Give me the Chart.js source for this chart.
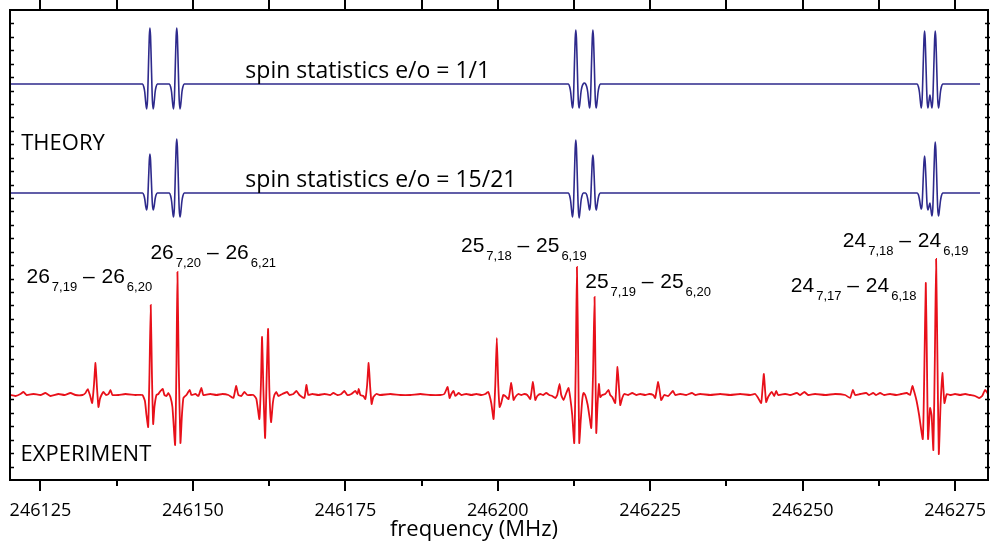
<!DOCTYPE html>
<html>
<head>
<meta charset="utf-8">
<script src="https://cdn.jsdelivr.net/npm/chart.js@4.4.1/dist/chart.umd.min.js"></script>
<style>
  html, body { margin: 0; padding: 0; background: #fff; }
  #wrap { width: 990px; height: 554px; }
</style>
</head>
<body>
<div id="wrap"><canvas id="spec" width="990" height="554"></canvas></div>
<script>
// frequency axis (MHz)
const xTicks = [246125, 246150, 246175, 246200, 246225, 246250, 246275];
const xMin = 246120, xMax = 246280.4;
const xTitle = 'frequency (MHz)';

// intensity (arbitrary units), each trace is drawn around its own baseline
const yMax = 470;
const baseTheory11 = 396, baseTheory1521 = 287, baseExp = 85;

// simulated spectrum, spin statistics e/o = 1/1   [MHz, intensity]
const theory11 = [
  [246120.0, 0],
  [246141.75, 0], [246141.95, -3], [246142.10, -8], [246142.25, -18], [246142.41, -25], [246142.55, -16],
  [246142.75, 27], [246142.85, 48], [246142.95, 56], [246143.05, 48], [246143.15, 27],
  [246143.35, -16], [246143.49, -25], [246143.65, -18], [246143.80, -8], [246143.95, -3], [246144.15, 0],
  [246146.15, 0], [246146.35, -3], [246146.50, -8], [246146.65, -18], [246146.81, -25], [246146.95, -16],
  [246147.15, 27], [246147.25, 48], [246147.35, 56], [246147.45, 48], [246147.55, 27],
  [246147.75, -16], [246147.89, -25], [246148.05, -18], [246148.20, -8], [246148.35, -3], [246148.55, 0],
  [246211.60, 0], [246211.80, -3], [246211.95, -8], [246212.10, -17], [246212.26, -24], [246212.40, -16],
  [246212.60, 26], [246212.70, 46], [246212.80, 54], [246212.90, 46], [246213.00, 26],
  [246213.20, -16], [246213.34, -24], [246213.50, -17], [246213.65, -8], [246213.80, -3], [246214.00, 0],
  [246214.20, 1],
  [246214.40, 0], [246214.60, -3], [246214.75, -8], [246214.90, -17], [246215.06, -24], [246215.20, -16],
  [246215.40, 26], [246215.50, 46], [246215.60, 54], [246215.70, 46], [246215.80, 26],
  [246216.00, -16], [246216.14, -24], [246216.30, -17], [246216.45, -8], [246216.60, -3], [246216.80, 0],
  [246268.80, 0], [246269.00, -3], [246269.15, -8], [246269.30, -17], [246269.46, -24], [246269.60, -15],
  [246269.80, 25], [246269.90, 45], [246270.00, 53], [246270.10, 45], [246270.20, 25],
  [246270.40, -15], [246270.54, -24], [246270.70, -18], [246270.875, -11], [246271.05, -18], [246271.21, -24],
  [246271.35, -15], [246271.55, 25], [246271.65, 45], [246271.75, 53], [246271.85, 45], [246271.95, 25],
  [246272.15, -15], [246272.29, -24], [246272.45, -17], [246272.60, -8], [246272.75, -3], [246272.95, 0],
  [246279.1, 0]
];

// simulated spectrum, spin statistics e/o = 15/21
const theory1521 = [
  [246120.0, 0],
  [246141.75, 0], [246141.95, -2], [246142.10, -6], [246142.25, -13], [246142.41, -17], [246142.55, -11],
  [246142.75, 18], [246142.85, 33], [246142.95, 39], [246143.05, 33], [246143.15, 18],
  [246143.35, -11], [246143.49, -17], [246143.65, -13], [246143.80, -6], [246143.95, -2], [246144.15, 0],
  [246146.15, 0], [246146.35, -3], [246146.50, -8], [246146.65, -17], [246146.81, -24], [246146.95, -16],
  [246147.15, 26], [246147.25, 46], [246147.35, 54], [246147.45, 46], [246147.55, 26],
  [246147.75, -16], [246147.89, -24], [246148.05, -17], [246148.20, -8], [246148.35, -3], [246148.55, 0],
  [246211.60, 0], [246211.80, -3], [246211.95, -8], [246212.10, -17], [246212.26, -24], [246212.40, -15],
  [246212.60, 25], [246212.70, 45], [246212.80, 53], [246212.90, 45], [246213.00, 25],
  [246213.20, -15], [246213.34, -25], [246213.50, -17], [246213.65, -8], [246213.80, -3], [246214.00, 0],
  [246214.40, 0], [246214.60, -2], [246214.75, -6], [246214.90, -12], [246215.06, -17], [246215.20, -11],
  [246215.40, 18], [246215.50, 32], [246215.60, 38], [246215.70, 32], [246215.80, 18],
  [246216.00, -11], [246216.14, -17], [246216.30, -12], [246216.45, -6], [246216.60, -2], [246216.80, 0],
  [246268.80, 0], [246269.00, -2], [246269.15, -6], [246269.30, -12], [246269.46, -16], [246269.60, -11],
  [246269.80, 18], [246269.90, 31], [246270.00, 37], [246270.10, 31], [246270.20, 18],
  [246270.40, -11], [246270.54, -17], [246270.70, -14], [246270.875, -10], [246271.05, -17], [246271.21, -23],
  [246271.35, -15], [246271.55, 24], [246271.65, 43], [246271.75, 51], [246271.85, 43], [246271.95, 24],
  [246272.15, -15], [246272.29, -23], [246272.45, -16], [246272.60, -8], [246272.75, -3], [246272.95, 0],
  [246279.1, 0]
];

// measured spectrum   [MHz, intensity]
const experiment = [
  [246120.0, 0], [246120.9, -1], [246121.72, 1], [246122.21, 3], [246122.70, 0], [246123.85, 1],
  [246125.0, 0], [246125.82, 2], [246126.64, -1], [246127.95, 1], [246128.93, 0], [246129.92, 2],
  [246130.74, 0], [246131.89, 0], [246132.38, 2], [246132.75, 6], [246133.11, 0], [246133.48, -8],
  [246133.77, 10], [246134.02, 32], [246134.26, 8], [246134.51, -12], [246134.75, -4], [246135.0, 0],
  [246135.33, 3], [246135.74, 0], [246136.15, 1], [246136.48, 5], [246136.80, 0], [246137.79, 0],
  [246138.93, 1], [246140.57, 0], [246141.72, 0], [246142.13, -6], [246142.38, -20], [246142.66, -32],
  [246142.87, 20], [246143.08, 90], [246143.28, 20], [246143.48, -29], [246143.69, -12], [246144.02, 0],
  [246144.34, 1], [246144.67, 4], [246145.05, 6], [246145.33, 0], [246145.66, -1], [246145.98, 2],
  [246146.31, -2], [246146.64, -12], [246147.08, -50], [246147.30, 30], [246147.46, 123], [246147.67, 30],
  [246147.95, -48], [246148.20, -20], [246148.44, -3], [246148.93, 0], [246149.48, 5], [246149.75, 0],
  [246150.41, 1], [246150.90, -1], [246151.39, 7], [246151.72, 0], [246152.87, 1], [246153.85, 0],
  [246154.84, 1], [246155.82, 0], [246156.64, -3], [246157.08, 9], [246157.46, 0], [246157.95, -1],
  [246158.44, 3], [246158.93, 0], [246159.92, 0], [246160.41, -4], [246160.90, -24], [246161.15, 10],
  [246161.34, 58], [246161.56, 5], [246161.84, -43], [246162.10, 20], [246162.33, 66], [246162.54, 5],
  [246162.82, -27], [246163.11, -8], [246163.36, 0], [246163.69, 3], [246164.02, -1], [246164.67, 1],
  [246165.44, 3], [246165.82, 0], [246166.48, 1], [246166.97, 4], [246167.46, 0], [246168.28, -3],
  [246168.61, 10], [246168.93, 0], [246169.59, 1], [246170.57, 0], [246171.56, 1], [246172.54, 0],
  [246173.03, 2], [246173.69, 0], [246174.34, 1], [246174.84, 4], [246175.33, 0], [246175.98, 1],
  [246176.64, 4], [246176.97, 1], [246177.21, 6], [246177.46, 0], [246177.95, -1], [246178.28, -4],
  [246178.57, 10], [246178.82, 32], [246179.07, 8], [246179.31, -9], [246179.59, -2], [246180.08, 1],
  [246180.74, 0], [246182.38, 1], [246184.02, 0], [246185.66, 0], [246187.30, 1], [246188.93, 0],
  [246190.57, 0], [246191.23, 1], [246191.77, 8], [246192.10, -3], [246192.38, 1], [246192.75, 4],
  [246193.03, -1], [246193.57, 2], [246194.02, 0], [246194.84, 1], [246195.66, 0], [246196.48, 1],
  [246197.30, 0], [246197.95, 1], [246198.44, 3], [246198.93, -8], [246199.31, -24], [246199.59, 10],
  [246199.84, 57], [246200.08, 10], [246200.30, -12], [246200.57, -8], [246200.90, 0], [246201.23, -1],
  [246201.77, -4], [246202.21, 12], [246202.59, -5], [246202.87, -2], [246203.36, 1], [246203.85, 0],
  [246204.34, 1], [246204.84, 0], [246205.33, -4], [246205.77, 13], [246206.15, -5], [246206.48, -1],
  [246206.97, 1], [246207.46, 0], [246207.95, 2], [246208.44, 0], [246208.93, -1], [246209.43, -3],
  [246209.75, 0], [246210.13, 11], [246210.41, 0], [246210.79, -5], [246211.23, 2], [246211.61, 7],
  [246211.89, -3], [246212.21, -20], [246212.54, -48], [246212.79, 30], [246212.98, 128], [246213.20, 30],
  [246213.36, -48], [246213.61, -25], [246213.85, -5], [246214.07, 2], [246214.34, 0], [246214.75, -10],
  [246215.0, -20], [246215.33, -33], [246215.62, 20], [246215.87, 98], [246216.03, 20], [246216.15, -38],
  [246216.36, -10], [246216.59, 11], [246216.80, -2], [246217.13, 0], [246217.62, 1], [246218.16, 5],
  [246218.44, 0], [246218.77, -2], [246219.26, -8], [246219.64, 28], [246220.08, -10], [246220.41, -3],
  [246220.74, 1], [246221.39, 0], [246222.05, 2], [246222.70, 0], [246223.36, 1], [246224.18, 0],
  [246224.84, 1], [246225.49, 0], [246225.82, -3], [246226.31, 13], [246226.80, -5], [246227.30, 0],
  [246227.95, -1], [246228.72, 4], [246229.10, 0], [246229.92, 1], [246230.90, 0], [246231.84, 2],
  [246232.38, 0], [246233.20, 1], [246234.84, 0], [246236.48, 1], [246238.11, 0], [246239.75, 1],
  [246241.39, 0], [246242.21, 1], [246242.70, -3], [246243.20, -8], [246243.44, 8], [246243.64, 21],
  [246243.85, 4], [246244.02, -7], [246244.34, -2], [246244.95, 3], [246245.33, -1], [246245.66, 4],
  [246245.98, 0], [246247.13, 1], [246247.95, 0], [246249.05, 2], [246249.59, 0], [246250.30, 3],
  [246250.90, 0], [246252.05, 1], [246253.69, 0], [246255.33, 1], [246256.97, 0], [246257.79, -3],
  [246258.23, 5], [246258.61, 0], [246259.43, 1], [246260.41, 2], [246260.90, 0], [246261.56, 2],
  [246262.05, 0], [246262.70, 2], [246263.36, 0], [246264.34, 1], [246265.33, 0], [246266.15, 1],
  [246267.08, 2], [246267.62, 0], [246268.0, 9], [246268.36, 2], [246268.69, -6], [246269.10, -20],
  [246269.71, -44], [246269.97, 30], [246270.20, 112], [246270.41, 20], [246270.57, -44], [246270.90, -13],
  [246271.15, -20], [246271.44, -55], [246271.69, 40], [246271.89, 136], [246272.10, 40], [246272.33, -59],
  [246272.62, -10], [246272.92, 22], [246273.25, -8], [246273.64, 1], [246274.18, 0], [246275.0, 1],
  [246275.82, 0], [246276.64, 1], [246277.46, 0], [246278.28, -1], [246278.93, -3], [246279.44, -1],
  [246279.92, 5], [246280.41, 1]
];

// assignments J(Ka,Kc) - J(Ka,Kc), placed at [MHz, intensity]
const transitions = [
  { upper: ['26', '7,19'], lower: ['26', '6,20'], at: [246122.7, 196.7] },
  { upper: ['26', '7,20'], lower: ['26', '6,21'], at: [246143.03, 220.7] },
  { upper: ['25', '7,18'], lower: ['25', '6,19'], at: [246193.97, 228.3] },
  { upper: ['25', '7,19'], lower: ['25', '6,20'], at: [246214.34, 191.7] },
  { upper: ['24', '7,18'], lower: ['24', '6,19'], at: [246256.59, 232.7] },
  { upper: ['24', '7,17'], lower: ['24', '6,18'], at: [246248.06, 188.3] }
];
const notes = [
  { text: 'spin statistics e/o = 1/1', at: [246158.6, 401.7], size: 23 },
  { text: 'spin statistics e/o = 15/21', at: [246158.6, 293.3], size: 23 },
  { text: 'THEORY', at: [246121.84, 330], size: 22 },
  { text: 'EXPERIMENT', at: [246121.72, 19], size: 22 }
];

const toXY = (arr, base) => arr.map(p => ({ x: p[0], y: p[1] + base }));

const decorations = {
  id: 'decorations',
  afterDraw(chart) {
    const ctx = chart.ctx;
    const area = chart.chartArea;
    const xs = chart.scales.x, ys = chart.scales.y;
    ctx.save();

    // notes
    ctx.fillStyle = '#000';
    ctx.textBaseline = 'alphabetic';
    ctx.textAlign = 'left';
    notes.forEach(n => {
      ctx.font = n.size + 'px "Open Sans"';
      ctx.fillText(n.text, xs.getPixelForValue(n.at[0]), ys.getPixelForValue(n.at[1]));
    });

    // axis title, sits a bit left of the centre like the original
    ctx.font = '22px "Open Sans"';
    ctx.textAlign = 'center';
    ctx.fillText(xTitle, xs.getPixelForValue(246196.1), area.bottom + 56);
    ctx.textAlign = 'left';

    // transition labels with subscripts
    transitions.forEach(t => {
      let x = xs.getPixelForValue(t.at[0]);
      const y = ys.getPixelForValue(t.at[1]);
      const parts = [
        [t.upper[0], 21, 0, 2], [t.upper[1], 13, 8, 0],
        [' \u2013 ', 21, 0, 1],
        [t.lower[0], 21, 0, 2], [t.lower[1], 13, 8, 0]
      ];
      parts.forEach(p => {
        ctx.font = p[1] + 'px "Liberation Sans"';
        ctx.fillText(p[0], x, y + p[2]);
        x += ctx.measureText(p[0]).width + p[3];
      });
    });

    // frame
    ctx.strokeStyle = '#000';
    ctx.lineWidth = 2;
    ctx.strokeRect(area.left, area.top, area.right - area.left, area.bottom - area.top);

    // x tick marks, top and bottom, major + minor
    ctx.beginPath();
    xTicks.forEach(v => {
      const px = Math.round(xs.getPixelForValue(v));
      ctx.moveTo(px, area.bottom); ctx.lineTo(px, area.bottom + 11);
      ctx.moveTo(px, area.top); ctx.lineTo(px, area.top - 11);
      const mid = v - 12.5;
      if (mid > xMin) {
        const pm = Math.round(xs.getPixelForValue(mid));
        ctx.moveTo(pm, area.bottom); ctx.lineTo(pm, area.bottom + 6);
        ctx.moveTo(pm, area.top); ctx.lineTo(pm, area.top - 11);
      }
    });
    ctx.stroke();

    // small inward ticks on left and right edges
    ctx.lineWidth = 1.5;
    ctx.beginPath();
    for (let k = 1; k < 35; k++) {
      const py = Math.round(ys.getPixelForValue(k * yMax / 35)) + 0.5;
      ctx.moveTo(area.left, py); ctx.lineTo(area.left + 4, py);
      ctx.moveTo(area.right - 3, py); ctx.lineTo(area.right + 2, py);
    }
    ctx.stroke();
    ctx.restore();
  }
};

new Chart(document.getElementById('spec'), {
  type: 'line',
  data: {
    datasets: [
      {
        label: 'e/o = 1/1',
        data: toXY(theory11, baseTheory11),
        borderColor: '#2e2a8c',
        borderWidth: 1.6,
        pointRadius: 0,
        cubicInterpolationMode: 'monotone'
      },
      {
        label: 'e/o = 15/21',
        data: toXY(theory1521, baseTheory1521),
        borderColor: '#2e2a8c',
        borderWidth: 1.6,
        pointRadius: 0,
        cubicInterpolationMode: 'monotone'
      },
      {
        label: 'experiment',
        data: toXY(experiment, baseExp),
        borderColor: '#e8101a',
        borderWidth: 1.8,
        pointRadius: 0,
        tension: 0.15
      }
    ]
  },
  options: {
    responsive: false,
    animation: false,
    devicePixelRatio: 1,
    layout: { padding: { left: 10, right: 2, top: 10, bottom: 34 } },
    plugins: { legend: { display: false }, tooltip: { enabled: false } },
    scales: {
      x: {
        type: 'linear',
        min: xMin,
        max: xMax,
        afterBuildTicks: scale => { scale.ticks = xTicks.map(v => ({ value: v })); },
        grid: { display: false, drawTicks: true, tickLength: 22 },
        border: { display: false },
        ticks: {
          padding: 0,
          color: '#000',
          font: { family: '"Open Sans"', size: 18, lineHeight: 1 },
          maxRotation: 0,
          callback: v => String(v)
        },
        title: { display: false }
      },
      y: { display: false, min: 0, max: yMax }
    }
  },
  plugins: [decorations]
});
</script>
</body>
</html>
